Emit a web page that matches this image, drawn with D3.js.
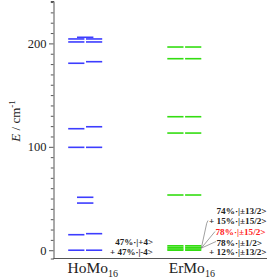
<!DOCTYPE html>
<html>
<head>
    <meta charset="utf-8">
    <title>HoMo16 / ErMo16 energy levels</title>
    <style>
        body {
            margin: 0;
            background: white;
        }
        .levels text {
            font-family: "Liberation Serif", "DejaVu Serif", serif;
        }
        .m-axis line, .m-axis path {
            stroke: #555;
        }
    </style>
    <script src="https://cdn.jsdelivr.net/npm/d3@7/dist/d3.min.js"></script>
</head>
<body>
    <div class="mainView"></div>
<script>
    // energies in cm-1
    let compounds = ["HoMo16", "ErMo16"]
    let hoLeft  = [0, 15.0, 99.5, 117.5, 180.8, 201.4, 204.3]
    let hoRight = [0, 16.0, 99.5, 119.4, 182.3, 201.4, 204.3]
    let hoMid   = [45.6, 51.2, 205.9]
    let erLeft  = [0, 1.2, 2.7, 4.3, 53.4, 113.3, 129.1, 185.2, 196.5]
    let erRight = [0, 1.2, 2.7, 4.3, 53.4, 113.3, 129.1, 185.2, 196.5]
    let yMajorTicks = [0, 100, 200]
    let yMinorTicks = d3.range(-0, 241, 10)
    let hoLabels = ["47%\u00b7|+4>", "+ 47%\u00b7|-4>"]
    let erLabels = ["74%\u00b7|\u00b113/2>", "+ 15%\u00b7|\u00b115/2>", "78%\u00b7|\u00b115/2>", "78%\u00b7|\u00b11/2>", "+ 12%\u00b7|\u00b113/2>"]

    function getChartConfig() {
        let width = 267;
        let height = 278;
        let margin = { top: 1, bottom: 19.5, left: 53.5, right: 0 }
        let bodyHeight = height - margin.top - margin.bottom;
        let bodyWidth = width - margin.left - margin.right;
        let svg = d3.select(".mainView")
            .append("svg")
            .attr("width", width)
            .attr("height", height)
        let container = svg.append("g")
            .attr("class", "levels")
            .attr("transform", "translate(" + [margin.left, margin.top] + ")")
        return { width, height, margin, bodyHeight, bodyWidth, svg, container };
    }

    function getChartScales(config) {
        let { bodyWidth, bodyHeight } = config;
        let yScale = d3.scaleLinear()
            .domain([-8, 241])
            .range([bodyHeight, 0])
        let xScale = d3.scalePoint()
            .domain(compounds)
            .range([31.7, 130.8])
        return { xScale, yScale }
    }

    function drawAxes(scales, config) {
        let { xScale, yScale } = scales;
        let { container, bodyHeight, bodyWidth } = config;

        let minor = d3.axisLeft(yScale)
            .tickValues(yMinorTicks.filter(t => yMajorTicks.indexOf(t) < 0))
            .tickSize(2.7)
            .tickFormat("")
        container.append("g").attr("class", "m-axis").call(minor)

        let major = d3.axisLeft(yScale)
            .tickValues(yMajorTicks)
            .tickSize(4.5)
            .tickPadding(2.5)
        let gMajor = container.append("g").attr("class", "m-axis").call(major)
        gMajor.select(".domain").remove()
        gMajor.selectAll("text")
            .style("font-size", "12.5px")
            .attr("fill", "#222")

        container.append("line")
            .attr("x1", 0).attr("x2", bodyWidth)
            .attr("y1", bodyHeight).attr("y2", bodyHeight)
            .style("stroke", "#555")

        compounds.forEach(c => {
            let t = container.append("text")
                .attr("x", xScale(c) + 7.5)
                .attr("y", bodyHeight + 14.5)
                .attr("text-anchor", "middle")
                .style("font-size", "15.5px")
                .attr("fill", "#222")
            t.append("tspan").text(c.slice(0, 4))
            t.append("tspan").attr("dy", 3.5).style("font-size", "10px").text(c.slice(4))
        })

        let yl = container.append("text")
            .attr("transform", "translate(" + [-34, yScale(125)] + ") rotate(-90)")
            .attr("text-anchor", "middle")
            .style("font-size", "13px")
            .attr("fill", "#222")
        yl.append("tspan").style("font-style", "italic").text("E")
        yl.append("tspan").text(" / cm")
        yl.append("tspan").attr("dy", -5).style("font-size", "9px").text("-1")
    }

    function drawLevels(scales, config) {
        let { xScale, yScale } = scales;
        let { container } = config;
        let half = 16.2, gap = 0.8;
        let sets = [
            { c: "HoMo16", vals: hoLeft, x0: -half - gap, x1: -gap, color: "#3d3dff" },
            { c: "HoMo16", vals: hoRight, x0: gap, x1: half + gap, color: "#3d3dff" },
            { c: "HoMo16", vals: hoMid, x0: -8.2, x1: 8.2, color: "#3d3dff" },
            { c: "ErMo16", vals: erLeft, x0: -half - gap, x1: -gap, color: "#33dd11" },
            { c: "ErMo16", vals: erRight, x0: gap, x1: half + gap, color: "#33dd11" }
        ]
        sets.forEach(s => {
            container.selectAll(null)
                .data(s.vals)
                .enter()
                .append("line")
                .attr("x1", xScale(s.c) + s.x0)
                .attr("x2", xScale(s.c) + s.x1)
                .attr("y1", d => yScale(d))
                .attr("y2", d => yScale(d))
                .style("stroke", s.color)
                .style("stroke-width", 1.6)
        })
    }

    function drawLabels(scales, config) {
        let { xScale, yScale } = scales;
        let { container, margin } = config;
        let lx = x => x - margin.left
        let ly = y => y - margin.top

        let hoPos = [[115.3, 245], [110, 254.5]]
        hoLabels.forEach((t, i) => {
            container.append("text")
                .attr("x", lx(hoPos[i][0]))
                .attr("y", ly(hoPos[i][1]))
                .style("font-size", "9px")
                .style("font-weight", "bold")
                .attr("fill", "#222")
                .text(t)
        })

        let erPos = [[216.5, 213.5], [209, 224], [215.5, 234.5], [216.5, 246], [209, 255]]
        erLabels.forEach((t, i) => {
            container.append("text")
                .attr("x", lx(erPos[i][0]))
                .attr("y", ly(erPos[i][1]))
                .style("font-size", "9.2px")
                .style("font-weight", "bold")
                .attr("fill", i == 2 ? "#ff2020" : "#222")
                .text(t)
        })

        // leader lines from the ground-state cluster
        let sx = xScale("ErMo16") + 17, sy = yScale(2)
        let leaders = [
            [[206.7, 223.3], [208, 220.5]],
            [[215, 231.5]],
            [[216, 241.5]]
        ]
        leaders.forEach(pts => {
            let p = [[sx, sy]].concat(pts.map(q => [lx(q[0]), ly(q[1])]))
            container.append("path")
                .attr("d", d3.line()(p))
                .style("fill", "none")
                .style("stroke", "#777")
                .style("stroke-width", 0.7)
        })
    }

    function showData() {
        let config = getChartConfig();
        let scales = getChartScales(config);
        drawAxes(scales, config);
        drawLevels(scales, config);
        drawLabels(scales, config);
    }
    showData();
</script>
</body>
</html>
